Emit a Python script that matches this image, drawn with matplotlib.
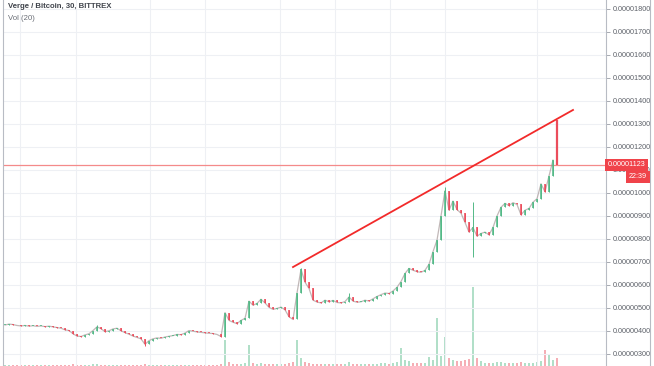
import matplotlib
matplotlib.use("Agg")
import matplotlib.pyplot as plt
from matplotlib.transforms import blended_transform_factory

# ---- data (prices in 1e-8 BTC) ----
closes = [426, 430, 428, 424, 422, 424, 421, 423, 420, 422,
          419, 421, 418, 415, 412, 405, 402, 388, 378, 376,
          383, 388, 402, 418, 410, 397, 401, 409, 412, 401,
          393, 386, 378, 372, 366, 342, 358, 366, 370, 368,
          374, 377, 380, 385, 384, 391, 402, 399, 396, 394,
          392, 390, 389, 385, 376, 480, 446, 438, 432, 446,
          455, 530, 512, 520, 538, 522, 503, 494, 498, 504,
          492, 462, 450, 565, 668, 612, 585, 534, 526, 522,
          534, 527, 533, 524, 522, 528, 548, 530, 525, 527,
          534, 530, 540, 550, 558, 565, 563, 574, 590, 615,
          650, 672, 664, 658, 655, 664, 690, 745, 795, 900,
          1010, 925, 965, 928, 912, 872, 830, 850, 812, 824,
          830, 818, 850, 900, 938, 955, 945, 958, 950, 905,
          925, 933, 960, 975, 1040, 1005, 1075, 1143, 1123]
wick_highs = {23: 425, 74: 674, 86: 565, 110: 1026, 117: 961, 138: 1317}
wick_lows = {35: 335, 117: 722}
last_open = 1300

volumes = [1, 1, 1, 1, 1, 1, 1, 1, 1, 1,
           1, 1, 1, 1, 1, 1, 1, 2, 1, 1,
           1, 1, 2, 2, 1, 1, 1, 1, 1, 1,
           1, 1, 1, 1, 1, 2, 1, 1, 1, 1,
           1, 1, 1, 1, 1, 1, 1, 1, 1, 1,
           1, 1, 1, 1, 2, 26, 4, 2, 2, 2,
           3, 21, 3, 2, 3, 2, 2, 2, 2, 2,
           2, 3, 4, 26, 8, 4, 3, 2, 2, 2,
           2, 2, 2, 2, 2, 2, 4, 2, 2, 2,
           2, 2, 2, 2, 3, 3, 2, 3, 4, 18,
           6, 5, 3, 3, 3, 3, 9, 6, 48, 10,
           29, 8, 6, 5, 5, 6, 7, 79, 8, 5,
           3, 3, 3, 4, 4, 3, 3, 3, 3, 4,
           3, 3, 3, 4, 5, 16, 12, 6, 8]

price_ticks = list(range(300, 1900, 100))
grid_x = [3.75, 17.75, 36.25, 50, 68.75, 82.5, 96.25, 110, 133]
trend_x = [72, 142]
trend_y = [678, 1361]
last_price = 1123
last_time = "22:39"
title = "Verge / Bitcoin, 30, BITTREX"
vol_label = "Vol (20)"

UP = "#53b987"
DOWN = "#eb4d5c"
FONT = "Liberation Sans"

W, H = 654, 366
fig = plt.figure(figsize=(W / 100, H / 100), dpi=100)
fig.patch.set_facecolor("white")
ax = fig.add_axes([3 / W, 0, 603 / W, 1])
ax.set_xlim(-0.5, 150.25)
ax.set_ylim(247.8, 1839.1)

# grid
for v in price_ticks:
    ax.axhline(v, color="#eef0f4", lw=0.8, zorder=0)
for gx in grid_x:
    ax.axvline(gx, color="#eef0f4", lw=0.8, zorder=0)

# volume
axv = ax.twinx()
axv.set_ylim(0, H)
axv.set_xlim(ax.get_xlim())
axv.axis("off")
opens = [closes[0]] + closes[:-1]
opens[-1] = last_open
idx = list(range(len(closes)))
vcols = [UP if c >= o else DOWN for o, c in zip(opens, closes)]
axv.bar(idx, volumes, width=0.3, color=vcols, alpha=0.45, zorder=1)

# candles
ax.set_zorder(axv.get_zorder() + 1)
ax.patch.set_visible(False)
ax.plot(idx[:-1], closes[:-1], color="#a89a9a", lw=0.9, alpha=0.7, zorder=2.5)
for i, (o, c) in enumerate(zip(opens, closes)):
    col = UP if c >= o else DOWN
    hi = wick_highs.get(i, max(o, c))
    lo = wick_lows.get(i, min(o, c))
    lw = 1.6 if i == len(closes) - 1 else 0.7
    ax.vlines(i, lo, hi, color=col, lw=lw, zorder=3)
    b = min(o, c)
    h = max(abs(c - o), 4)
    ax.bar(i, h, bottom=b, width=0.55, color=col, lw=0, zorder=3, alpha=0.8)

# trend line
ax.plot(trend_x, trend_y, color="#f22a2a", lw=1.3, zorder=4)

# last price line
ax.axhline(last_price, color="#f48a8a", lw=0.9, zorder=2.4, snap=True)

# axes styling
for s in ["top", "bottom"]:
    ax.spines[s].set_visible(False)
ax.spines["left"].set_color("#b8bcc4")
ax.spines["right"].set_color("#b8bcc4")
ax.spines["left"].set_linewidth(0.8)
ax.spines["right"].set_linewidth(0.8)
ax.set_xticks([])
ax.yaxis.tick_right()
ax.set_yticks(price_ticks)
ax.set_yticklabels([f"{v * 1e-8:.8f}" for v in price_ticks])
ax.tick_params(axis="y", length=3, width=0.6, color="#9a9ea6", pad=2,
               labelsize=5.2, labelcolor="#5c6068")
for lab in ax.get_yticklabels():
    lab.set_fontfamily(FONT)

# outer right border
fig.add_artist(plt.Line2D([650 / W, 650 / W], [0, 1], color="#b8bcc4", lw=0.8,
                          transform=fig.transFigure))

# last price labels
bt = blended_transform_factory(fig.transFigure, ax.transData)
fig.text(607.5 / W, last_price, f"{last_price * 1e-8:.8f}", transform=bt,
         ha="left", va="center", fontsize=5.2, color="white", family=FONT,
         bbox=dict(boxstyle="square,pad=0.35", fc="#f0434a", ec="none"), zorder=10)
fig.text(629 / W, last_price - 52, last_time, transform=bt,
         ha="left", va="center", fontsize=5.2, color="white", family=FONT,
         bbox=dict(boxstyle="square,pad=0.35", fc="#f0434a", ec="none"), zorder=10)

# titles
fig.text(8 / W, 1 - 7 / H, title, ha="left", va="center", fontsize=5.6,
         color="#40444c", fontweight="bold", family=FONT)
fig.text(8 / W, 1 - 19 / H, vol_label, ha="left", va="center", fontsize=5.6,
         color="#6a6e76", family=FONT)

fig.savefig("out.png", dpi=100, facecolor="white")
